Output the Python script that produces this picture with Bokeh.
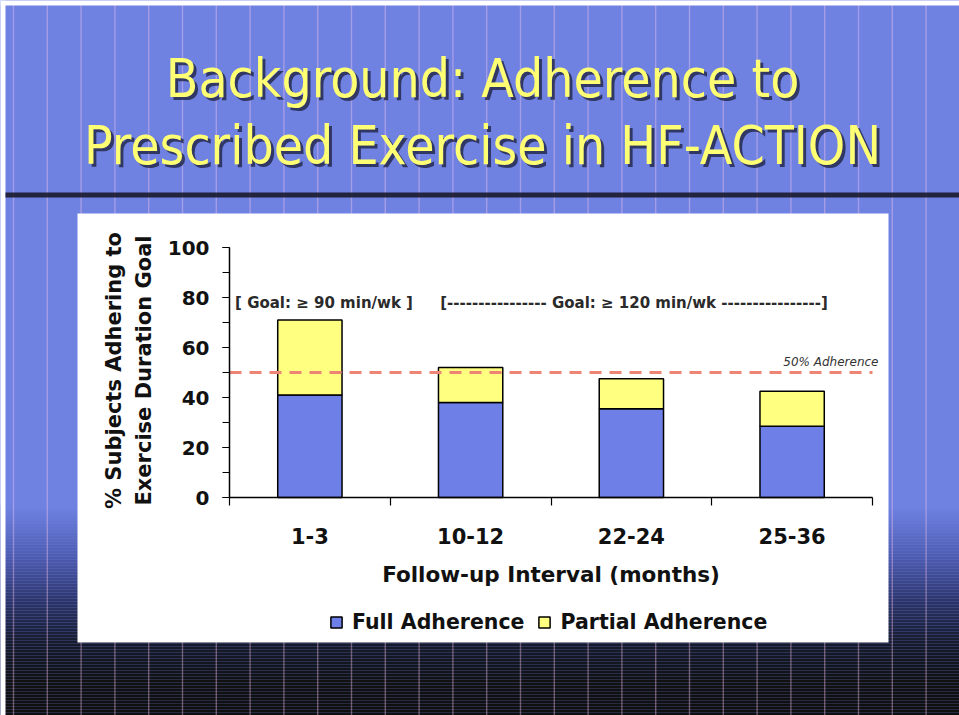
import numpy as np
from bokeh.plotting import figure
from bokeh.models import (Range1d, LinearAxis, FixedTicker, SingleIntervalTicker,
                          Label, Legend, LegendItem, ColumnDataSource)
from bokeh.embed import file_html
from bokeh.resources import INLINE

# ---------------- data ----------------
intervals = ["1-3", "10-12", "22-24", "25-36"]
full_adherence = [41, 38, 35.5, 28.5]
partial_adherence = [30, 14, 12, 14]
series_names = ["Full Adherence", "Partial Adherence"]
y_max = 100
threshold = 50
threshold_label = "50% Adherence"
goal_labels = ["[ Goal: \u2265 90 min/wk ]",
               "[---------------- Goal: \u2265 120 min/wk ----------------]"]
title_lines = ["Background: Adherence to", "Prescribed Exercise in HF-ACTION"]
y_title_lines = ["% Subjects Adhering to", "Exercise Duration Goal"]
x_title = "Follow-up Interval (months)"

# ---------------- style / layout ----------------
SLIDE_BLUE = "#6F82E2"
BAR_BLUE = "#6E80E8"
BAR_YELLOW = "#FFFF80"
TITLE_YELLOW = "#FFFF74"
TITLE_FONT = "DejaVu Sans Condensed, DejaVu Sans"
FONT = "DejaVu Sans"
INK = "#111111"

W, H = 959, 715
CH_L, CH_R = 229, 872        # chart frame in page pixels
CH_T, CH_B = 247, 497

n = len(intervals)
px_x = (CH_R - CH_L) / n
px_y = (CH_B - CH_T) / y_max

p = figure(width=W, height=H, output_backend="svg", toolbar_location=None,
           x_range=Range1d(0, W), y_range=Range1d(H, 0),
           x_axis_type=None, y_axis_type=None, min_border=0)
p.min_border_left = p.min_border_right = p.min_border_top = p.min_border_bottom = 0
p.border_fill_color = SLIDE_BLUE
p.background_fill_color = SLIDE_BLUE
p.outline_line_color = None

p.extra_x_ranges = {"chart": Range1d(-CH_L / px_x, n + (W - CH_R) / px_x)}
p.extra_y_ranges = {"pct": Range1d((CH_B - H) / px_y, CH_B / px_y)}


def hex2rgb(h):
    h = h.lstrip("#")
    return [int(h[i:i + 2], 16) for i in (0, 2, 4)]


# ---------- slide decoration (page-pixel coordinates) ----------
stops = [(505, SLIDE_BLUE), (555, "#4E5CB0"), (600, "#2C3468"), (640, "#171B2C"),
         (680, "#111111"), (720, "#0E0E0E")]
bl, br, bt, bb, bc = [], [], [], [], []
for y0 in range(505, 716, 3):
    for (ya, ca), (yb, cb) in zip(stops[:-1], stops[1:]):
        if ya <= y0 < yb:
            t = (y0 - ya) / (yb - ya)
            a, b = hex2rgb(ca), hex2rgb(cb)
            bl.append(0); br.append(W); bt.append(y0); bb.append(y0 + 3)
            bc.append("#%02x%02x%02x" % tuple(int(round(a[i] + (b[i] - a[i]) * t)) for i in range(3)))
            break
p.quad(left=bl, right=br, top=bt, bottom=bb, fill_color=bc, line_color=None)

sx = [13 + 33.8 * k for k in range(28)]
p.quad(left=[x - 0.7 for x in sx], right=[x + 0.7 for x in sx], top=0, bottom=H,
       fill_color="#F4C4EA", fill_alpha=0.4, line_color=None)

# scan border (white) at left and top
p.quad(left=[0, 0], right=[5, W], top=[0, 0], bottom=[H, 5], fill_color="white", line_color=None)

# dark rule under the title
p.quad(left=[5], right=[W], top=[192], bottom=[197], fill_color="#1A1A2C",
       fill_alpha=0.9, line_color=None)

# white chart panel
p.quad(left=[77], right=[888], top=[213], bottom=[642], fill_color="white", line_color=None)

# ---------------- title ----------------
for line, base in zip(title_lines, [78, 145]):
    p.add_layout(Label(x=482 + 3, y=base + 3, text=line, text_align="center",
                       text_baseline="alphabetic", text_font=TITLE_FONT,
                       text_font_size="53px", text_color="#1C1E3A", text_alpha=0.75))
    p.add_layout(Label(x=482, y=base, text=line, text_align="center",
                       text_baseline="alphabetic", text_font=TITLE_FONT,
                       text_font_size="53px", text_color=TITLE_YELLOW))

# ---------------- bars ----------------
src = ColumnDataSource(dict(pos=[i + 0.5 for i in range(n)], interval=intervals,
                            full=full_adherence, partial=partial_adherence))
rs = p.vbar_stack(["full", "partial"], x="pos", width=0.4, source=src,
                  fill_color=[BAR_BLUE, BAR_YELLOW], line_color="black", line_width=1.5,
                  x_range_name="chart", y_range_name="pct")

# threshold line
p.segment(x0=[0], x1=[n], y0=[threshold], y1=[threshold], line_color="#EE8474",
          line_width=3, line_dash="12 8", x_range_name="chart", y_range_name="pct")

# ---------------- axes ----------------
yaxis = LinearAxis(y_range_name="pct", fixed_location=CH_L, bounds=(0, y_max),
                   ticker=SingleIntervalTicker(interval=20, num_minor_ticks=2))
yaxis.major_tick_out = 7
yaxis.major_tick_in = 0
yaxis.minor_tick_out = 7
yaxis.minor_tick_in = 0
yaxis.axis_line_width = 1.5
yaxis.major_tick_line_width = 1.2
yaxis.minor_tick_line_width = 1.2
yaxis.major_label_standoff = 13
yaxis.major_label_text_font = FONT
yaxis.major_label_text_font_style = "bold"
yaxis.major_label_text_font_size = "20px"
yaxis.major_label_text_color = INK
p.add_layout(yaxis, "left")

centers = [i + 0.5 for i in range(n)]
bounds = [float(i) for i in range(n + 1)]
xaxis = LinearAxis(x_range_name="chart", y_range_name="pct", fixed_location=0,
                   bounds=(0, n),
                   ticker=FixedTicker(ticks=centers, minor_ticks=bounds),
                   major_label_overrides={c: lab for c, lab in zip(centers, intervals)})
xaxis.major_tick_out = 0
xaxis.major_tick_in = 0
xaxis.minor_tick_out = 8
xaxis.minor_tick_in = 0
xaxis.axis_line_width = 1.5
xaxis.minor_tick_line_width = 1.2
xaxis.major_label_standoff = 22
xaxis.major_label_text_font = FONT
xaxis.major_label_text_font_style = "bold"
xaxis.major_label_text_font_size = "21px"
xaxis.major_label_text_color = INK
xaxis.axis_label = x_title
xaxis.axis_label_standoff = 15
xaxis.axis_label_text_font = FONT
xaxis.axis_label_text_font_style = "bold"
xaxis.axis_label_text_font_size = "21.5px"
xaxis.axis_label_text_color = INK
p.add_layout(xaxis, "below")

# y title (two rotated lines)
for line, xc in zip(y_title_lines, [113, 143]):
    p.add_layout(Label(x=xc, y=370, text=line, angle=90, angle_units="deg",
                       text_align="center", text_baseline="middle",
                       text_font=FONT, text_font_style="bold",
                       text_font_size="21px", text_color=INK))

p.add_layout(Label(x=878, y=361, text=threshold_label, text_align="right",
                   text_baseline="alphabetic", text_font=FONT, text_font_style="italic",
                   text_font_size="12px", text_color="#333333"))

# goal annotations
for txt, xc in zip(goal_labels, [323.5, 633.5]):
    p.add_layout(Label(x=xc, y=302, text=txt, text_align="center", text_baseline="alphabetic",
                       text_font=FONT, text_font_style="bold", text_font_size="15px",
                       text_color="#2A2A2A"))

# legend (location in frame pixels, origin bottom-left)
legend = Legend(items=[LegendItem(label=series_names[i], renderers=[rs[i]]) for i in range(2)],
                orientation="horizontal", location=(329, H - 622 - 12))
legend.background_fill_alpha = 0
legend.border_line_color = None
legend.padding = 0
legend.margin = 0
legend.spacing = 13
legend.label_standoff = 9
legend.glyph_width = 14
legend.glyph_height = 14
legend.label_text_font = FONT
legend.label_text_font_style = "bold"
legend.label_text_font_size = "20.5px"
legend.label_text_color = INK
p.add_layout(legend)

open("out.html", "w").write(file_html(p, INLINE))
